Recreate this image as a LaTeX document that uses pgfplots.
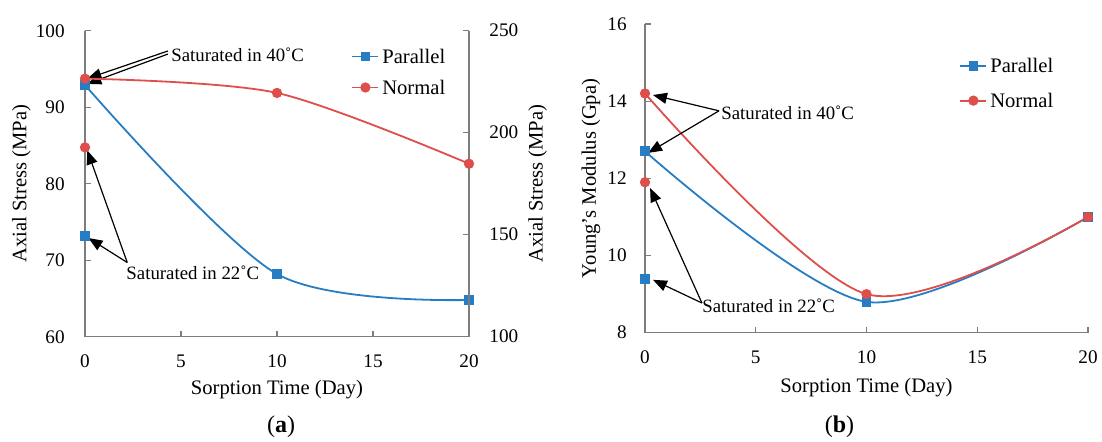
\documentclass[border=0pt]{standalone}
\usepackage{fontspec}
\setmainfont{Liberation Serif}
\usepackage{pgfplots}
\pgfplotsset{compat=1.18}
\usetikzlibrary{arrows.meta}
\definecolor{bl}{RGB}{38,125,195}
\definecolor{rd}{RGB}{222,78,74}
\definecolor{axg}{RGB}{125,125,125}
\tikzset{
  arr/.style={-{Triangle[length=7pt,width=5.5pt]}, line width=0.6pt, black},
  ann/.style={font=\fontsize{9.4}{11}\selectfont, inner sep=0pt, anchor=west},
}
\pgfplotsset{
  base/.style={
    scale only axis,
    clip=false,
    axis line style={axg, line width=0.65pt},
    tick style={axg, line width=0.65pt},
    major tick length=3pt,
    tick align=inside,
    /pgf/number format/assume math mode=true,
    tick label style={font=\fontsize{9.6}{11}\selectfont, text=black},
    label style={font=\fontsize{10.3}{12}\selectfont, anchor=center},
    xticklabel style={anchor=center, yshift=-12.5pt},
    legend style={font=\fontsize{10.3}{12}\selectfont, draw=none, fill=none,
      inner sep=0pt, nodes={inner sep=1.5pt, text height=7pt, text depth=0pt}},
    legend cell align=left,
    legend image code/.code={\draw[mark repeat=2,mark phase=2,##1] plot coordinates {(0pt,0pt) (6.5pt,0pt) (13pt,0pt)};},
  },
  par/.style={bl, line width=0.9pt, mark=square*, mark size=2pt, mark options={solid, fill=bl, draw=bl}},
  nor/.style={rd, line width=0.9pt, mark=*, mark size=2.1pt, mark options={solid, fill=rd, draw=rd}},
}
\begin{document}
\begin{tikzpicture}
\useasboundingbox (0,0) rectangle (551pt,220.5pt);
% ---------------- panel (a), left axis ----------------
\begin{axis}[base,
  at={(42.5pt,52.15pt)}, anchor=south west,
  width=192pt, height=153pt,
  xmin=0, xmax=20, ymin=60, ymax=100,
  xtick={0,5,10,15,20}, ytick={60,70,80,90,100},
  axis x line*=bottom, axis y line*=left,
  yticklabel style={anchor=east, inner sep=0pt, xshift=-10pt},
  xlabel={Sorption Time (Day)},
  xlabel style={at={(axis description cs:0.5,-0.1742)}},
  ylabel={Axial Stress (MPa)},
  ylabel style={at={(axis description cs:-0.1654,0.5)}},
]
\addplot[par, smooth, tension=0.5] coordinates {(0,92.9) (10,68.2) (20,64.8)};
\addplot[par, only marks] coordinates {(0,73.2)};
\draw[arr] (axis cs:4.32,97.35) -- (axis cs:0.12,93.75);
\draw[arr] (axis cs:4.32,96.95) -- (axis cs:0.12,93.05);
\node[ann] at (axis cs:4.48,96.82) {Saturated in 40˚C};
\draw[arr] (axis cs:2.2,69.7) -- (axis cs:0.12,84.35);
\draw[arr] (axis cs:2.2,69.7) -- (axis cs:0.18,72.9);
\node[ann] at (axis cs:2.14,68.33) {Saturated in 22˚C};
\end{axis}
% ---------------- panel (a), right axis ----------------
\begin{axis}[base,
  at={(42.5pt,52.15pt)}, anchor=south west,
  width=192pt, height=153pt,
  xmin=0, xmax=20, ymin=100, ymax=250,
  ytick={100,150,200,250},
  axis x line=none, axis y line*=right,
  yticklabel style={anchor=west, inner sep=0pt, xshift=10pt},
  ylabel={Axial Stress (MPa)},
  ylabel style={at={(axis description cs:1.1786,0.5)}},
  legend style={at={(rel axis cs:0.693,0.865)}, anchor=west, row sep=5.5pt},
]
\addlegendimage{par}
\addlegendentry{Parallel}
\addplot[nor, smooth, tension=0.5] coordinates {(0,226.5) (10,219.5) (20,184.8)};
\addlegendentry{Normal}
\addplot[nor, only marks, forget plot] coordinates {(0,192.8)};
\end{axis}
% ---------------- panel (b) ----------------
\begin{axis}[base,
  at={(322.5pt,54.15pt)}, anchor=south west,
  width=221.5pt, height=154.35pt,
  xmin=0, xmax=20, ymin=8, ymax=16,
  xtick={0,5,10,15,20}, ytick={8,10,12,14,16},
  axis x line*=bottom, axis y line*=left,
  yticklabel style={anchor=east, inner sep=0pt, xshift=-9pt},
  xlabel={Sorption Time (Day)},
  xlabel style={at={(axis description cs:0.5,-0.1762)}},
  ylabel={Young's Modulus (Gpa)},
  ylabel style={at={(axis description cs:-0.1219,0.5)}},
  legend style={at={(rel axis cs:0.709,0.808)}, anchor=west, row sep=7.35pt},
]
\addplot[par, smooth, tension=0.5] coordinates {(0,12.7) (10,8.8) (20,11.0)};
\addlegendentry{Parallel}
\addplot[nor, smooth, tension=0.5] coordinates {(0,14.2) (10,9.0) (20,11.0)};
\addlegendentry{Normal}
\addplot[par, only marks, forget plot] coordinates {(0,9.4)};
\addplot[nor, only marks, forget plot] coordinates {(0,11.9)};
\draw[arr] (axis cs:3.34,13.75) -- (axis cs:0.36,14.16);
\draw[arr] (axis cs:3.34,13.75) -- (axis cs:0.14,12.66);
\node[ann] at (axis cs:3.43,13.71) {Saturated in 40˚C};
\draw[arr] (axis cs:2.57,8.77) -- (axis cs:0.36,9.37);
\draw[arr] (axis cs:2.57,8.77) -- (axis cs:0.23,11.75);
\node[ann] at (axis cs:2.57,8.69) {Saturated in 22˚C};
\end{axis}
\node[font=\fontsize{12}{14}\selectfont] at (140.5pt,7pt) {(\textbf{a})};
\node[font=\fontsize{12}{14}\selectfont] at (419.75pt,7pt) {(\textbf{b})};
\end{tikzpicture}
\end{document}
